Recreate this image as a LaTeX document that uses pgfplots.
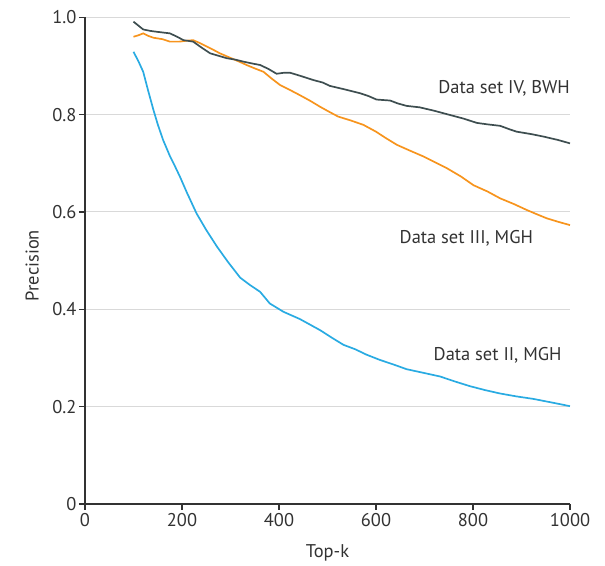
\documentclass[border=0pt]{standalone}
\usepackage{pgfplots}
\pgfplotsset{compat=1.18}
\usepackage{fontspec}
\setmainfont{PT Sans}
\definecolor{cblue}{RGB}{41,171,226}
\definecolor{corange}{RGB}{247,148,29}
\definecolor{cslate}{RGB}{62,78,80}
\definecolor{axgray}{RGB}{50,50,50}
\definecolor{gridgray}{RGB}{217,217,217}
\begin{document}
\begin{tikzpicture}[font=\fontsize{18.5}{21}\selectfont]
\begin{axis}[
  anchor=origin, at={(0,0)},
  x=0.485bp, y=486.7bp,
  xmin=0, xmax=1000, ymin=0, ymax=1.0,
  axis x line*=bottom, axis y line*=left,
  axis line style={-, axgray, line width=1.4bp},
  tick style={axgray, line width=1.4bp},
  tick align=outside, major tick length=6bp,
  xtick={0,200,400,600,800,1000},
  ytick={0,0.2,0.4,0.6,0.8,1.0},
  yticklabels={0,0.2,0.4,0.6,0.8,1.0},
  ymajorgrids, grid style={gridgray, line width=1bp},
  /pgf/number format/assume math mode=true,
  ticklabel style={text=axgray},
  yticklabel style={xshift=1bp},
  scaled x ticks=false,
  xticklabel style={/pgf/number format/1000 sep={}},
  xlabel={Top-k}, ylabel={Precision},
  xlabel style={at={(axis description cs:0.5,-0.1007)}, anchor=center, text=axgray},
  ylabel style={at={(axis description cs:-0.109,0.49)}, anchor=center, rotate=0, text=axgray},
  clip=false,
]
\addplot[cblue, line width=1.7bp] coordinates {
(100,0.929) (110,0.910) (120,0.888) (130,0.850) (141,0.810) (150,0.780) (161,0.748) (175,0.715) (185,0.695) (196,0.672) (210,0.640) (230,0.597) (250,0.563) (272,0.529) (295,0.497) (320,0.465) (340,0.450) (361,0.436) (381,0.412) (409,0.395) (443,0.380) (465,0.368) (485,0.357) (510,0.341) (533,0.327) (557,0.318) (580,0.307) (608,0.296) (635,0.287) (663,0.277) (700,0.269) (732,0.262) (765,0.251) (794,0.242) (825,0.234) (856,0.227) (890,0.221) (924,0.216) (960,0.209) (1000,0.201)
};
\addplot[corange, line width=1.7bp] coordinates {
(100,0.960) (110,0.963) (120,0.967) (130,0.962) (141,0.958) (160,0.955) (175,0.950) (195,0.950) (210,0.952) (223,0.953) (237,0.947) (251,0.940) (265,0.933) (278,0.926) (292,0.920) (306,0.914) (320,0.908) (333,0.902) (350,0.895) (368,0.888) (385,0.874) (402,0.861) (420,0.852) (443,0.840) (465,0.828) (485,0.816) (505,0.805) (522,0.796) (548,0.788) (574,0.779) (600,0.765) (620,0.752) (643,0.738) (670,0.726) (698,0.714) (720,0.703) (746,0.690) (775,0.673) (801,0.655) (830,0.642) (856,0.628) (885,0.616) (911,0.604) (930,0.596) (952,0.587) (975,0.580) (1000,0.573)
};
\addplot[cslate, line width=1.7bp] coordinates {
(100,0.991) (110,0.983) (120,0.975) (135,0.972) (150,0.970) (175,0.967) (190,0.960) (203,0.953) (223,0.950) (240,0.938) (258,0.926) (275,0.921) (292,0.916) (310,0.913) (326,0.909) (345,0.905) (361,0.902) (378,0.894) (395,0.884) (410,0.886) (423,0.886) (443,0.880) (471,0.871) (490,0.866) (505,0.859) (535,0.852) (567,0.844) (585,0.838) (601,0.831) (629,0.829) (645,0.823) (663,0.818) (690,0.815) (720,0.808) (746,0.801) (780,0.792) (808,0.783) (830,0.780) (856,0.777) (875,0.770) (890,0.765) (920,0.760) (945,0.755) (975,0.748) (1000,0.741)
};
\node[anchor=east, inner sep=0pt, text=axgray] at (axis cs:1000,0.855) {Data set IV, BWH};
\node[anchor=east, inner sep=0pt, text=axgray] at (axis cs:924,0.546) {Data set III, MGH};
\node[anchor=east, inner sep=0pt, text=axgray] at (axis cs:983,0.306) {Data set II, MGH};
\end{axis}
\path[use as bounding box] (-85bp,-62bp) rectangle (520bp,504bp);
\end{tikzpicture}
\end{document}
